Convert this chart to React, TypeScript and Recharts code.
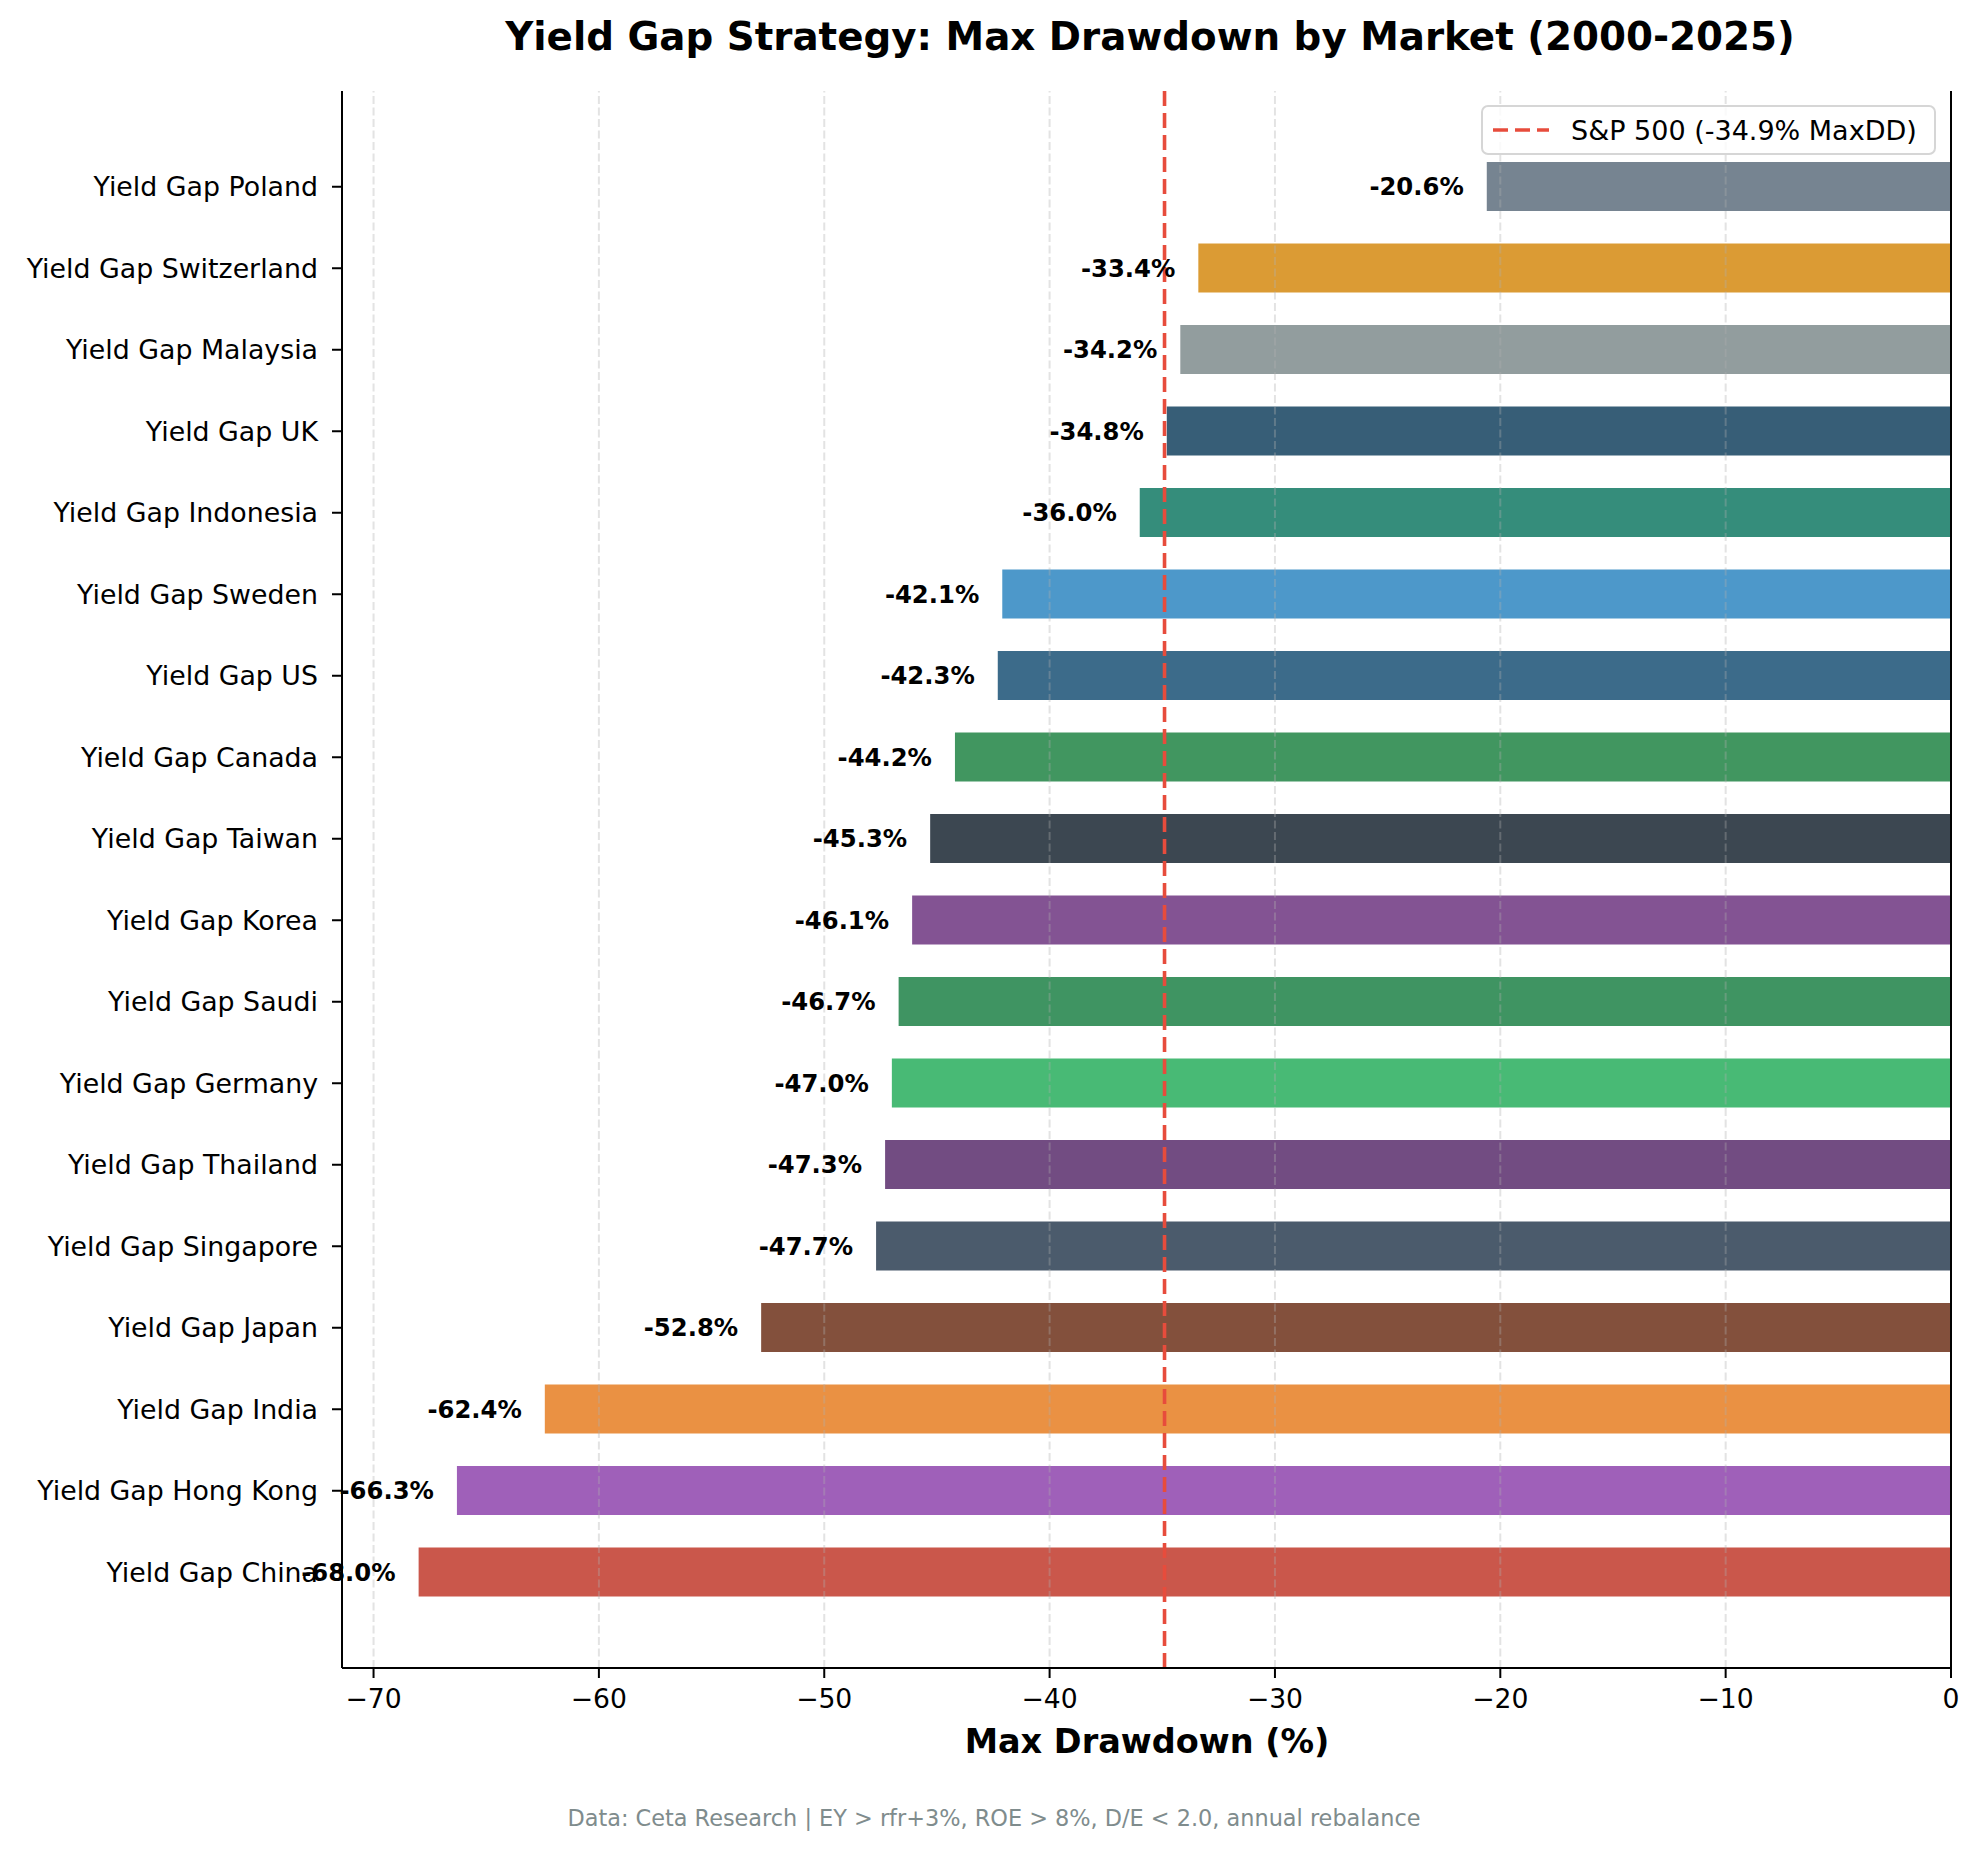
import React from 'react';
import {
  BarChart,
  Bar,
  Cell,
  XAxis,
  YAxis,
  ReferenceLine,
  LabelList,
  Legend
} from 'recharts';

const markets = [
  'Yield Gap Poland',
  'Yield Gap Switzerland',
  'Yield Gap Malaysia',
  'Yield Gap UK',
  'Yield Gap Indonesia',
  'Yield Gap Sweden',
  'Yield Gap US',
  'Yield Gap Canada',
  'Yield Gap Taiwan',
  'Yield Gap Korea',
  'Yield Gap Saudi',
  'Yield Gap Germany',
  'Yield Gap Thailand',
  'Yield Gap Singapore',
  'Yield Gap Japan',
  'Yield Gap India',
  'Yield Gap Hong Kong',
  'Yield Gap China'
];

const maxDrawdown = [
  -20.6, -33.4, -34.2, -34.8, -36.0, -42.1, -42.3, -44.2, -45.3,
  -46.1, -46.7, -47.0, -47.3, -47.7, -52.8, -62.4, -66.3, -68.0
];

const barColors = [
  '#768491', '#db9b34', '#929d9e', '#375e77', '#358d7b', '#4d98ca',
  '#3c6b8a', '#419660', '#3c4751', '#835393', '#3f9462', '#48ba75',
  '#724c82', '#4b5b6c', '#83503c', '#ea9143', '#9f60b9', '#ca574b'
];

const xTicks = [-70, -60, -50, -40, -30, -20, -10, 0];
const gridTicks = [-70, -60, -50, -40, -30, -20, -10];
const xDomain = [-71.4, 0];

const benchmarkValue = -34.9;
const benchmarkLabel = 'S&P 500 (-34.9% MaxDD)';

const FONT = '"DejaVu Sans", Verdana, sans-serif';
const W = 1979;
const H = 1851;

const chartData = markets.map((name, i) => ({ name, value: maxDrawdown[i] }));

const fmtTick = (v: number) => (v < 0 ? `\u2212${-v}` : `${v}`);

// value label sits just left of each bar's end
const BarValueLabel = (props: any) => {
  const { x, y, width, height, value } = props;
  const left = Math.min(Number(x), Number(x) + Number(width));
  return (
    <text
      x={left - 23}
      y={Number(y) + Number(height) / 2}
      textAnchor="end"
      dominantBaseline="central"
      fontFamily={FONT}
      fontWeight="bold"
      fontSize={24.3}
      fill="#000"
    >
      {`${Number(value).toFixed(1)}%`}
    </text>
  );
};

const LegendBox = () => (
  <div
    style={{
      boxSizing: 'border-box',
      width: 455,
      height: 50,
      border: '2px solid #d6d6d6',
      borderRadius: 7,
      background: 'rgba(255,255,255,0.8)',
      display: 'flex',
      alignItems: 'center',
      fontFamily: FONT,
      fontSize: 27,
      color: '#000'
    }}
  >
    <svg width={88} height={20} style={{ flex: 'none' }}>
      <line x1={10} y1={10} x2={66} y2={10} stroke="#e74c3c" strokeWidth={3.6} strokeDasharray="15 7" />
    </svg>
    <span style={{ whiteSpace: 'nowrap' }}>{benchmarkLabel}</span>
  </div>
);

export default function App() {
  return (
    <div style={{ position: 'absolute', left: 0, top: 0, width: W, height: H, background: '#fff' }}>
      <BarChart
        width={W}
        height={H}
        data={chartData}
        layout="vertical"
        margin={{ top: 91, right: 27, bottom: 123, left: 0 }}
      >
        <XAxis
          type="number"
          domain={xDomain}
          ticks={xTicks}
          allowDataOverflow
          tickFormatter={fmtTick}
          height={60}
          tickSize={10}
          tickMargin={11}
          axisLine={{ stroke: '#000', strokeWidth: 2 }}
          tickLine={{ stroke: '#000', strokeWidth: 2 }}
          tick={{ fill: '#000', fontSize: 26.6, fontFamily: FONT }}
        />
        <XAxis
          xAxisId="top"
          orientation="top"
          type="number"
          domain={xDomain}
          allowDataOverflow
          height={0}
          tick={false}
          tickLine={false}
          axisLine={{ stroke: '#000', strokeWidth: 2 }}
        />
        <YAxis
          type="category"
          dataKey="name"
          width={342}
          padding={{ top: 55, bottom: 55 }}
          tickSize={10}
          tickMargin={14}
          interval={0}
          axisLine={{ stroke: '#000', strokeWidth: 2 }}
          tickLine={{ stroke: '#000', strokeWidth: 2 }}
          tick={{ fill: '#000', fontSize: 26.8, fontFamily: FONT }}
        />
        <YAxis
          yAxisId="right"
          orientation="right"
          type="category"
          dataKey="name"
          width={1}
          tick={false}
          tickLine={false}
          axisLine={{ stroke: '#000', strokeWidth: 2 }}
        />
        <Bar dataKey="value" barSize={49} isAnimationActive={false}>
          {chartData.map((d, i) => (
            <Cell key={d.name} fill={barColors[i]} />
          ))}
          <LabelList dataKey="value" content={BarValueLabel} />
        </Bar>
        {gridTicks.map((t) => (
          <ReferenceLine
            key={t}
            x={t}
            stroke="#b0b0b0"
            strokeOpacity={0.35}
            strokeWidth={2}
            strokeDasharray="8 3.5"
          />
        ))}
        <ReferenceLine
          x={benchmarkValue}
          stroke="#e74c3c"
          strokeWidth={3.6}
          strokeDasharray="15 7"
        />
        <Legend
          layout="horizontal"
          verticalAlign="middle"
          align="center"
          content={LegendBox}
          wrapperStyle={{ position: 'absolute', left: 1481, top: 105, width: 455, height: 50 }}
        />
      </BarChart>
      <svg
        width={W}
        height={H}
        style={{ position: 'absolute', left: 0, top: 0, pointerEvents: 'none' }}
      >
        <text x={1150} y={50} textAnchor="middle" fontFamily={FONT} fontWeight="bold" fontSize={38.8} fill="#000">
          Yield Gap Strategy: Max Drawdown by Market (2000-2025)
        </text>
        <text x={1147} y={1753} textAnchor="middle" fontFamily={FONT} fontWeight="bold" fontSize={33.5} fill="#000">
          Max Drawdown (%)
        </text>
        <text x={994} y={1826} textAnchor="middle" fontFamily={FONT} fontSize={22.4} fill="#7f8c8d">
          Data: Ceta Research | EY &gt; rfr+3%, ROE &gt; 8%, D/E &lt; 2.0, annual rebalance
        </text>
      </svg>
    </div>
  );
}
